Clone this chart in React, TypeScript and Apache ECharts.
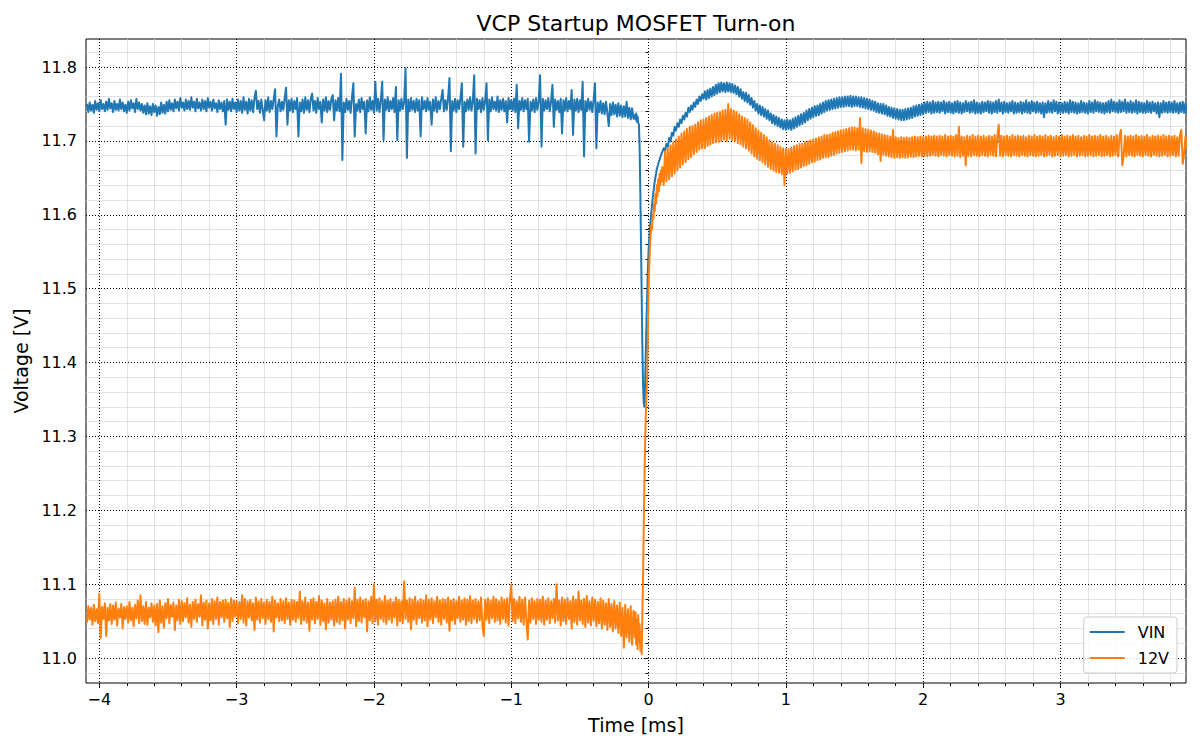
import React, { useEffect, useRef } from "react";
import * as echarts from "echarts";

const FONT = "DejaVu Sans";
const TITLE = "VCP Startup MOSFET Turn-on";
const X_LABEL = "Time [ms]";
const Y_LABEL = "Voltage [V]";
const SERIES_NAMES = ["VIN", "12V"];
const COLORS = ["#1f77b4", "#ff7f0e"];

const X_MIN = -4.097;
const X_MAX = 3.914;
const Y_MIN = 10.9662;
const Y_MAX = 11.8379;

const xMajorTicks = [-4, -3, -2, -1, 0, 1, 2, 3];
const yMajorTicks = [11.0, 11.1, 11.2, 11.3, 11.4, 11.5, 11.6, 11.7, 11.8];

// scope sampling (ms)
const PRE_START = -4.09;
const POST_START = 0.11;
const SAMPLE_STEP = 0.01;

// values in mV, t = PRE_START + i * SAMPLE_STEP
const vinPre = [
  11750, 11739, 11752, 11741, 11749, 11738, 11754, 11742, 11751, 11740,
  11755, 11743, 11750, 11740, 11753, 11742, 11757, 11744, 11751, 11739,
  11754, 11742, 11750, 11741, 11756, 11743, 11752, 11740, 11749, 11738,
  11753, 11741, 11755, 11744, 11751, 11739, 11757, 11743, 11752, 11741,
  11750, 11738, 11748, 11736, 11751, 11737, 11747, 11735, 11750, 11739,
  11748, 11734, 11746, 11736, 11752, 11738, 11749, 11737, 11753, 11740,
  11755, 11742, 11751, 11740, 11756, 11744, 11753, 11741, 11758, 11745,
  11752, 11741, 11756, 11743, 11754, 11742, 11759, 11745, 11753, 11740,
  11757, 11744, 11752, 11741, 11756, 11743, 11754, 11740, 11758, 11745,
  11753, 11741, 11756, 11744, 11751, 11739, 11755, 11743, 11752, 11740,
  11754, 11722, 11756, 11742, 11753, 11740, 11757, 11743, 11752, 11739,
  11756, 11741, 11754, 11738, 11759, 11742, 11753, 11737, 11757, 11741,
  11755, 11739, 11758, 11768, 11743, 11754, 11738, 11756, 11742, 11728,
  11755, 11741, 11759, 11739, 11754, 11743, 11757, 11770, 11706, 11748,
  11756, 11740, 11753, 11742, 11758, 11772, 11722, 11755, 11741, 11757,
  11739, 11754, 11743, 11758, 11706, 11752, 11740, 11756, 11738, 11759,
  11742, 11755, 11739, 11757, 11764, 11741, 11754, 11738, 11758, 11743,
  11753, 11725, 11756, 11741, 11759, 11739, 11754, 11742, 11757, 11762,
  11728, 11755, 11741, 11758, 11740, 11791, 11674, 11752, 11739, 11757,
  11742, 11754, 11738, 11759, 11778, 11706, 11750, 11741, 11756, 11739,
  11758, 11743, 11753, 11710, 11755, 11740, 11759, 11742, 11754, 11738,
  11780, 11741, 11757, 11739, 11755, 11780, 11701, 11756, 11742, 11759,
  11740, 11754, 11743, 11758, 11739, 11773, 11701, 11755, 11741, 11757,
  11743, 11753, 11798, 11677, 11756, 11740, 11758, 11742, 11754, 11739,
  11757, 11741, 11755, 11706, 11759, 11743, 11754, 11740, 11758, 11742,
  11753, 11722, 11756, 11741, 11759, 11739, 11754, 11743, 11757, 11769,
  11740, 11755, 11742, 11758, 11785, 11686, 11754, 11741, 11757, 11739,
  11755, 11743, 11758, 11778, 11692, 11753, 11740, 11756, 11742, 11759,
  11741, 11754, 11789, 11683, 11757, 11743, 11755, 11739, 11758, 11742,
  11754, 11778, 11701, 11756, 11740, 11759, 11743, 11753, 11741, 11760,
  11739, 11755, 11742, 11757, 11740, 11754, 11725, 11758, 11743, 11755,
  11741, 11757, 11739, 11776, 11717, 11754, 11742, 11758, 11740, 11755,
  11743, 11757, 11699, 11753, 11741, 11756, 11739, 11758, 11742, 11754,
  11789, 11692, 11757, 11741, 11755, 11743, 11758, 11740, 11753, 11776,
  11719, 11756, 11742, 11754, 11739, 11757, 11710, 11755, 11741, 11758,
  11740, 11754, 11743, 11769, 11708, 11756, 11741, 11757, 11739, 11755,
  11742, 11780, 11679, 11754, 11740, 11757, 11742, 11753, 11739, 11756,
  11778, 11690, 11752, 11739, 11754, 11737, 11751, 11736, 11753, 11738,
  11720, 11750, 11735, 11752, 11736, 11749, 11733, 11751, 11734, 11748,
  11732, 11747, 11733, 11753, 11731, 11745, 11729, 11744, 11730,
];

const v12Pre = [
  11048, 11070, 11052, 11068, 11045, 11072, 11050, 11066, 11047, 11087,
  11027, 11069, 11053, 11074, 11030, 11068, 11051, 11073, 11046, 11071,
  11052, 11075, 11044, 11067, 11055, 11073, 11040, 11069, 11053, 11070,
  11048, 11076, 11051, 11068, 11043, 11072, 11054, 11078, 11047, 11085,
  11050, 11070, 11046, 11076, 11045, 11068, 11055, 11074, 11049, 11071,
  11044, 11073, 11035, 11078, 11048, 11070, 11041, 11074, 11054, 11080,
  11047, 11072, 11056, 11075, 11038, 11071, 11051, 11079, 11046, 11077,
  11050, 11074, 11055, 11081, 11048, 11072, 11042, 11076, 11053, 11079,
  11049, 11073, 11056, 11085, 11044, 11075, 11052, 11078, 11040, 11074,
  11051, 11080, 11046, 11077, 11053, 11082, 11045, 11076, 11055, 11078,
  11049, 11079, 11054, 11075, 11042, 11081, 11050, 11078, 11056, 11077,
  11047, 11076, 11053, 11085, 11048, 11080, 11044, 11077, 11055, 11079,
  11051, 11074, 11038, 11082, 11052, 11077, 11048, 11080, 11054, 11075,
  11046, 11079, 11053, 11076, 11049, 11083, 11036, 11078, 11055, 11074,
  11050, 11080, 11051, 11077, 11047, 11081, 11053, 11075, 11045, 11079,
  11052, 11078, 11049, 11076, 11054, 11090, 11046, 11077, 11051, 11082,
  11048, 11075, 11037, 11079, 11052, 11081, 11047, 11076, 11053, 11084,
  11045, 11078, 11050, 11074, 11039, 11080, 11048, 11075, 11052, 11077,
  11044, 11079, 11049, 11083, 11046, 11076, 11051, 11080, 11040, 11078,
  11052, 11081, 11047, 11077, 11054, 11095, 11043, 11079, 11050, 11082,
  11048, 11078, 11055, 11080, 11036, 11077, 11051, 11083, 11047, 11100,
  11050, 11079, 11045, 11081, 11053, 11077, 11049, 11084, 11046, 11078,
  11052, 11080, 11048, 11076, 11055, 11082, 11044, 11079, 11050, 11077,
  11047, 11104, 11053, 11078, 11049, 11081, 11039, 11079, 11052, 11083,
  11046, 11077, 11054, 11080, 11048, 11078, 11051, 11085, 11043, 11079,
  11052, 11081, 11047, 11077, 11055, 11083, 11049, 11078, 11045, 11080,
  11053, 11079, 11048, 11082, 11037, 11078, 11051, 11080, 11046, 11077,
  11054, 11083, 11049, 11078, 11052, 11081, 11045, 11079, 11050, 11084,
  11047, 11078, 11053, 11080, 11048, 11077, 11051, 11082, 11044, 11030,
  11079, 11052, 11081, 11047, 11078, 11054, 11083, 11049, 11080, 11051,
  11077, 11046, 11082, 11053, 11079, 11048, 11081, 11044, 11078, 11100,
  11050, 11080, 11047, 11077, 11054, 11083, 11049, 11079, 11045, 11082,
  11051, 11025, 11078, 11048, 11081, 11053, 11077, 11046, 11080, 11052,
  11079, 11049, 11083, 11045, 11078, 11052, 11081, 11047, 11077, 11054,
  11080, 11048, 11100, 11051, 11078, 11044, 11082, 11050, 11079, 11046,
  11081, 11053, 11077, 11040, 11083, 11049, 11079, 11045, 11090, 11051,
  11078, 11046, 11080, 11042, 11084, 11048, 11077, 11044, 11082, 11050,
  11079, 11043, 11076, 11047, 11081, 11040, 11078, 11045, 11074, 11038,
  11080, 11042, 11073, 11036, 11077, 11040, 11071, 11034, 11075, 11030,
  11068, 11014, 11072, 11028, 11066, 11022, 11070, 11018, 11064,
];

// switching edge, finer sampling (ms)
const transTime = [
  -0.1, -0.095, -0.09, -0.085, -0.08, -0.075, -0.07, -0.065, -0.06, -0.055,
  -0.05, -0.045, -0.04, -0.035, -0.03, -0.025, -0.02, -0.015, -0.01, -0.005,
  0, 0.005, 0.01, 0.015, 0.02, 0.025, 0.03, 0.035, 0.04, 0.045,
  0.05, 0.055, 0.06, 0.065, 0.07, 0.075, 0.08, 0.085, 0.09, 0.095, 0.1,
];

const vinTrans = [
  11735, 11729, 11737, 11726, 11733, 11724, 11722, 11690, 11630, 11560,
  11490, 11420, 11370, 11345, 11340, 11372, 11415, 11455, 11492, 11525,
  11552, 11568, 11582, 11592, 11603, 11612, 11622, 11630, 11638, 11645,
  11651, 11656, 11662, 11665, 11668, 11672, 11674, 11678, 11680, 11683, 11685,
];

const v12Trans = [
  11028, 11062, 11018, 11052, 11012, 11058, 11022, 11046, 11010, 11035,
  11005, 11060, 11110, 11180, 11240, 11290, 11330, 11355, 11380, 11440,
  11500, 11530, 11555, 11572, 11585, 11580, 11600, 11595, 11615, 11605,
  11628, 11615, 11640, 11625, 11648, 11632, 11655, 11640, 11660, 11645, 11665,
];

// t = POST_START + i * SAMPLE_STEP
const vinPost = [
  11690, 11686, 11696, 11692, 11704, 11699, 11711, 11707, 11719, 11714,
  11724, 11719, 11729, 11724, 11734, 11729, 11738, 11733, 11745, 11739,
  11748, 11742, 11752, 11746, 11756, 11750, 11760, 11754, 11763, 11757,
  11767, 11756, 11769, 11758, 11771, 11760, 11773, 11762, 11776, 11764,
  11778, 11766, 11779, 11767, 11778, 11766, 11779, 11767, 11778, 11766,
  11777, 11765, 11775, 11763, 11773, 11760, 11770, 11757, 11766, 11754,
  11765, 11752, 11762, 11749, 11758, 11745, 11754, 11741, 11750, 11737,
  11748, 11735, 11746, 11733, 11743, 11730, 11741, 11728, 11737, 11724,
  11735, 11722, 11733, 11720, 11731, 11718, 11729, 11716, 11728, 11715,
  11729, 11716, 11728, 11715, 11730, 11717, 11732, 11719, 11734, 11721,
  11736, 11723, 11738, 11725, 11741, 11728, 11743, 11730, 11745, 11732,
  11747, 11734, 11748, 11735, 11750, 11737, 11752, 11739, 11754, 11741,
  11755, 11742, 11756, 11743, 11757, 11744, 11758, 11745, 11759, 11746,
  11759, 11746, 11760, 11747, 11760, 11747, 11761, 11746, 11760, 11747,
  11760, 11747, 11759, 11746, 11759, 11745, 11758, 11744, 11757, 11743,
  11756, 11742, 11754, 11741, 11753, 11739, 11751, 11738, 11750, 11737,
  11750, 11736, 11748, 11734, 11746, 11733, 11745, 11731, 11744, 11730,
  11743, 11729, 11742, 11728, 11742, 11728, 11743, 11729, 11744, 11730,
  11745, 11731, 11747, 11733, 11748, 11734, 11749, 11735, 11750, 11736,
  11752, 11738, 11753, 11739, 11752, 11737, 11754, 11738, 11752, 11739,
  11753, 11738, 11752, 11740, 11754, 11737, 11752, 11739, 11753, 11738,
  11751, 11737, 11753, 11739, 11754, 11738, 11752, 11737, 11751, 11739,
  11754, 11740, 11752, 11738, 11753, 11739, 11755, 11737, 11752, 11738,
  11751, 11737, 11753, 11739, 11752, 11740, 11754, 11738, 11753, 11737,
  11752, 11739, 11754, 11738, 11756, 11740, 11752, 11737, 11753, 11739,
  11751, 11738, 11752, 11740, 11754, 11737, 11752, 11738, 11751, 11739,
  11753, 11737, 11752, 11739, 11755, 11738, 11752, 11737, 11754, 11740,
  11752, 11738, 11753, 11739, 11751, 11737, 11752, 11732, 11751, 11738,
  11754, 11739, 11752, 11738, 11755, 11740, 11753, 11737, 11752, 11738,
  11751, 11738, 11753, 11739, 11752, 11737, 11755, 11739, 11753, 11738,
  11752, 11737, 11751, 11738, 11754, 11739, 11752, 11738, 11751, 11737,
  11754, 11739, 11752, 11738, 11755, 11740, 11753, 11739, 11752, 11738,
  11751, 11737, 11752, 11739, 11754, 11738, 11756, 11740, 11753, 11739,
  11752, 11738, 11755, 11739, 11753, 11740, 11756, 11738, 11752, 11739,
  11754, 11738, 11752, 11739, 11755, 11737, 11753, 11739, 11752, 11738,
  11751, 11738, 11754, 11739, 11752, 11738, 11753, 11740, 11751, 11737,
  11752, 11732, 11751, 11738, 11754, 11739, 11752, 11738, 11753, 11739,
  11752, 11738, 11754, 11739, 11751, 11737, 11752, 11739, 11753, 11738,
  11751, 11737,
];

const v12Post = [
  11640, 11686, 11645, 11690, 11648, 11694, 11652, 11698, 11656, 11702,
  11660, 11706, 11664, 11710, 11668, 11713, 11671, 11716, 11675, 11719,
  11678, 11720, 11682, 11722, 11685, 11725, 11688, 11728, 11690, 11729,
  11690, 11731, 11693, 11733, 11695, 11735, 11697, 11737, 11698, 11738,
  11699, 11739, 11700, 11741, 11702, 11742, 11700, 11750, 11703, 11743,
  11701, 11741, 11700, 11739, 11697, 11736, 11695, 11733, 11692, 11731,
  11690, 11729, 11687, 11725, 11683, 11721, 11679, 11717, 11676, 11714,
  11674, 11711, 11671, 11708, 11668, 11705, 11665, 11701, 11662, 11698,
  11660, 11696, 11658, 11694, 11657, 11692, 11655, 11690, 11640, 11689,
  11656, 11689, 11657, 11691, 11659, 11693, 11661, 11694, 11662, 11696,
  11664, 11696, 11666, 11698, 11667, 11699, 11669, 11701, 11671, 11702,
  11672, 11703, 11674, 11705, 11675, 11706, 11677, 11708, 11678, 11708,
  11678, 11709, 11680, 11711, 11681, 11712, 11683, 11713, 11684, 11714,
  11685, 11715, 11686, 11716, 11687, 11717, 11688, 11718, 11688, 11718,
  11687, 11717, 11688, 11731, 11670, 11717, 11686, 11716, 11685, 11715,
  11686, 11714, 11685, 11713, 11684, 11711, 11682, 11710, 11673, 11709,
  11681, 11708, 11680, 11707, 11679, 11706, 11678, 11715, 11677, 11705,
  11678, 11704, 11677, 11705, 11678, 11704, 11677, 11705, 11678, 11704,
  11679, 11705, 11678, 11706, 11679, 11705, 11680, 11706, 11679, 11705,
  11680, 11706, 11679, 11707, 11680, 11706, 11681, 11707, 11680, 11706,
  11679, 11707, 11681, 11706, 11680, 11708, 11679, 11706, 11681, 11707,
  11680, 11706, 11679, 11708, 11680, 11719, 11678, 11706, 11680, 11705,
  11667, 11707, 11680, 11706, 11679, 11708, 11681, 11706, 11680, 11707,
  11679, 11706, 11681, 11707, 11680, 11705, 11679, 11707, 11681, 11706,
  11680, 11708, 11679, 11706, 11722, 11680, 11707, 11679, 11706, 11681,
  11707, 11680, 11706, 11679, 11708, 11681, 11706, 11680, 11707, 11679,
  11706, 11681, 11707, 11680, 11705, 11679, 11707, 11681, 11706, 11680,
  11708, 11679, 11706, 11680, 11707, 11681, 11706, 11679, 11708, 11680,
  11706, 11681, 11707, 11679, 11705, 11680, 11707, 11681, 11706, 11679,
  11708, 11680, 11706, 11681, 11707, 11679, 11706, 11680, 11708, 11681,
  11706, 11679, 11707, 11680, 11705, 11681, 11707, 11679, 11706, 11680,
  11708, 11681, 11706, 11679, 11707, 11680, 11706, 11681, 11708, 11679,
  11706, 11680, 11707, 11681, 11705, 11679, 11707, 11680, 11706, 11681,
  11708, 11679, 11706, 11715, 11667, 11680, 11707, 11679, 11706, 11681,
  11707, 11680, 11706, 11679, 11708, 11681, 11706, 11680, 11707, 11679,
  11706, 11681, 11708, 11680, 11705, 11679, 11707, 11681, 11706, 11680,
  11707, 11679, 11706, 11680, 11708, 11681, 11706, 11679, 11707, 11680,
  11706, 11681, 11707, 11679, 11705, 11680, 11708, 11715, 11669, 11681,
  11706, 11690,
];

const round = (v: number, d: number) => Math.round(v * Math.pow(10, d)) / Math.pow(10, d);

function buildSeries(pre: number[], trans: number[], post: number[]): [number, number][] {
  const out: [number, number][] = [];
  pre.forEach((mv, i) => out.push([round(PRE_START + i * SAMPLE_STEP, 4), mv / 1000]));
  trans.forEach((mv, i) => out.push([transTime[i], mv / 1000]));
  post.forEach((mv, i) => out.push([round(POST_START + i * SAMPLE_STEP, 4), mv / 1000]));
  return out;
}

function minorTicks(step: number, lo: number, hi: number, majorStep: number): number[] {
  const res: number[] = [];
  const kStart = Math.ceil(lo / step);
  const kEnd = Math.floor(hi / step);
  for (let k = kStart; k <= kEnd; k++) {
    const v = round(k * step, 4);
    const r = v / majorStep;
    if (Math.abs(r - Math.round(r)) < 1e-6) continue;
    res.push(v);
  }
  return res;
}

const xMinorTicks = minorTicks(0.2, X_MIN, X_MAX, 1);
const yMinorTicks = minorTicks(0.02, Y_MIN, Y_MAX, 0.1);

const fmtX = (v: number) => (v < 0 ? "\u2212" + Math.abs(v) : String(v));
const fmtY = (v: number) => v.toFixed(1);

export default function App() {
  const ref = useRef<HTMLDivElement>(null);

  useEffect(() => {
    if (!ref.current) return;
    const chart = echarts.init(ref.current, undefined, { renderer: "svg" });
    const vinData = buildSeries(vinPre, vinTrans, vinPost);
    const v12Data = buildSeries(v12Pre, v12Trans, v12Post);

    const tickLine = { color: "#000", width: 1 };
    const majorGrid = { color: "#000", width: 1, type: [1, 2] as any };
    const minorGrid = { color: "#dcdcdc", width: 0.8 };

    chart.setOption({
      animation: false,
      backgroundColor: "#fff",
      textStyle: { fontFamily: FONT },
      graphic: [
        {
          type: "text",
          x: 636,
          y: 23.5,
          style: {
            text: TITLE,
            fontSize: 22,
            fontFamily: FONT,
            fill: "#000",
            align: "center",
            verticalAlign: "middle",
          },
        },
      ],
      grid: {
        left: 86,
        right: 14,
        top: 39,
        bottom: 67,
        show: true,
        borderColor: "#000",
        borderWidth: 1,
        backgroundColor: "transparent",
      },
      legend: {
        orient: "vertical",
        right: 23,
        bottom: 77,
        data: SERIES_NAMES,
        icon: "rect",
        itemWidth: 35,
        itemHeight: 2,
        itemGap: 8,
        padding: [6, 8, 6, 6],
        backgroundColor: "rgba(255,255,255,0.8)",
        borderColor: "#cccccc",
        borderWidth: 1,
        borderRadius: 3,
        textStyle: {
          fontSize: 16,
          fontFamily: FONT,
          color: "#000",
          lineHeight: 18,
          padding: [0, 0, 0, 8],
        },
      },
      xAxis: [
        {
          type: "value",
          min: X_MIN,
          max: X_MAX,
          position: "bottom",
          z: 1,
          axisLine: { show: false },
          axisTick: { show: true, customValues: xMajorTicks, length: 5, lineStyle: tickLine },
          axisLabel: {
            customValues: xMajorTicks,
            formatter: fmtX,
            fontSize: 16,
            fontFamily: FONT,
            color: "#000",
            margin: 8,
          },
          splitLine: { show: true, lineStyle: majorGrid },
          name: X_LABEL,
          nameLocation: "middle",
          nameGap: 32,
          nameTextStyle: { fontSize: 19, fontFamily: FONT, color: "#000" },
        },
        {
          type: "value",
          min: X_MIN,
          max: X_MAX,
          position: "bottom",
          z: 0,
          axisLine: { show: false },
          axisTick: { show: true, customValues: xMinorTicks, length: 3, lineStyle: tickLine },
          axisLabel: { show: false },
          splitLine: { show: true, lineStyle: minorGrid },
        },
      ],
      yAxis: [
        {
          type: "value",
          min: Y_MIN,
          max: Y_MAX,
          position: "left",
          z: 1,
          axisLine: { show: false },
          axisTick: { show: true, customValues: yMajorTicks, length: 5, lineStyle: tickLine },
          axisLabel: {
            customValues: yMajorTicks,
            formatter: fmtY,
            fontSize: 16,
            fontFamily: FONT,
            color: "#000",
            margin: 9,
          },
          splitLine: { show: true, lineStyle: majorGrid },
          name: Y_LABEL,
          nameLocation: "middle",
          nameGap: 52,
          nameTextStyle: { fontSize: 19, fontFamily: FONT, color: "#000" },
        },
        {
          type: "value",
          min: Y_MIN,
          max: Y_MAX,
          position: "left",
          z: 0,
          axisLine: { show: false },
          axisTick: { show: true, customValues: yMinorTicks, length: 3, lineStyle: tickLine },
          axisLabel: { show: false },
          splitLine: { show: true, lineStyle: minorGrid },
        },
      ],
      series: [
        {
          name: SERIES_NAMES[0],
          type: "line",
          xAxisIndex: 0,
          yAxisIndex: 0,
          data: vinData,
          showSymbol: false,
          symbol: "none",
          z: 2,
          lineStyle: { color: COLORS[0], width: 2, join: "round" },
          itemStyle: { color: COLORS[0] },
        },
        {
          name: SERIES_NAMES[1],
          type: "line",
          xAxisIndex: 0,
          yAxisIndex: 0,
          data: v12Data,
          showSymbol: false,
          symbol: "none",
          z: 2,
          lineStyle: { color: COLORS[1], width: 2, join: "round" },
          itemStyle: { color: COLORS[1] },
        },
      ],
    });

    return () => {
      chart.dispose();
    };
  }, []);

  return (
    <div
      ref={ref}
      style={{ position: "fixed", left: 0, top: 0, width: 1200, height: 750, background: "#fff" }}
    />
  );
}
